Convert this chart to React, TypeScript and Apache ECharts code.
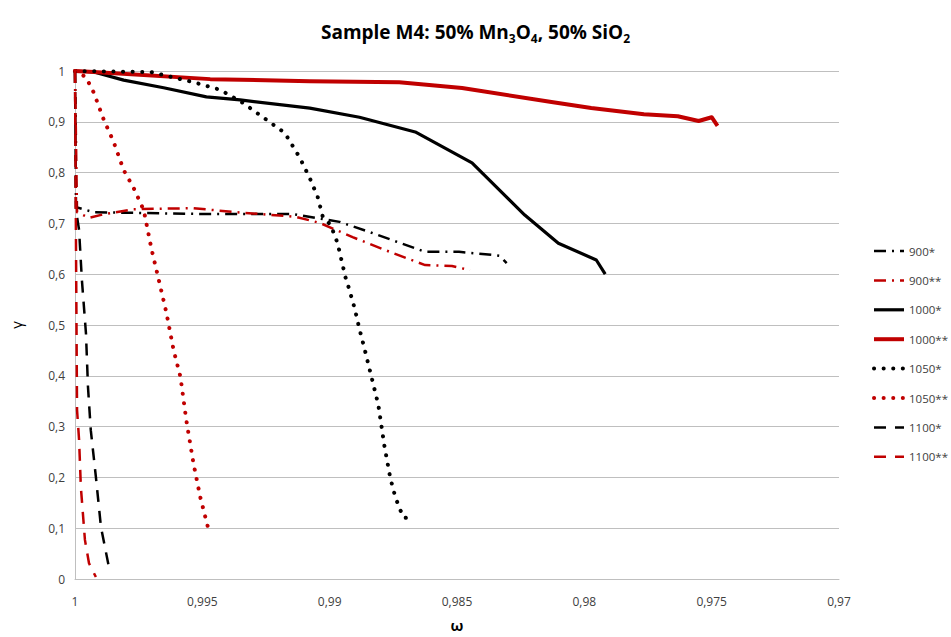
import React, { useEffect, useRef } from "react";
import * as echarts from "echarts";

const seriesNames = ["900*", "900**", "1000*", "1000**", "1050*", "1050**", "1100*", "1100**"];

const omega900a = [1, 0.99996, 0.99926, 0.99496, 0.99145, 0.98961, 0.98844, 0.98754, 0.98625, 0.98492, 0.98363, 0.98332, 0.98305];
const gamma900a = [1, 0.732, 0.722, 0.7185, 0.7185, 0.703, 0.683, 0.667, 0.644, 0.644, 0.638, 0.636, 0.622];

const omega900b = [1, 0.99992, 0.99945, 0.99887, 0.9977, 0.99535, 0.99367, 0.99133, 0.99039, 0.9891, 0.98754, 0.98625, 0.9852, 0.98449];
const gamma900b = [1, 0.722, 0.711, 0.718, 0.728, 0.73, 0.722, 0.713, 0.701, 0.673, 0.642, 0.618, 0.616, 0.608];

const omega1000a = [1, 0.99926, 0.99809, 0.99652, 0.99484, 0.99352, 0.99078, 0.98883, 0.98664, 0.98441, 0.98234, 0.98102, 0.97953, 0.97918];
const gamma1000a = [1, 0.998, 0.982, 0.967, 0.949, 0.943, 0.927, 0.909, 0.88, 0.819, 0.7165, 0.661, 0.628, 0.6];

const omega1000b = [1, 0.99926, 0.99469, 0.99078, 0.98727, 0.9848, 0.98129, 0.97973, 0.97766, 0.97633, 0.97551, 0.975, 0.97477];
const gamma1000b = [1, 0.998, 0.984, 0.98, 0.978, 0.9665, 0.939, 0.927, 0.915, 0.911, 0.9016, 0.909, 0.892];

const omega1050a = [1, 0.99703, 0.99535, 0.9943, 0.9934, 0.99262, 0.99176, 0.99117, 0.99078, 0.99047, 0.99027, 0.98996, 0.98969, 0.98938, 0.98926, 0.98902, 0.98883, 0.98863, 0.98832, 0.98809, 0.98785, 0.98762, 0.98742, 0.98723, 0.98707, 0.98684];
const gamma1050a = [1, 0.998, 0.978, 0.963, 0.937, 0.909, 0.878, 0.829, 0.789, 0.752, 0.713, 0.697, 0.661, 0.594, 0.575, 0.533, 0.492, 0.453, 0.39, 0.343, 0.262, 0.199, 0.161, 0.136, 0.12, 0.122];

const omega1050b = [1, 0.99957, 0.99926, 0.99887, 0.99848, 0.99809, 0.9977, 0.9973, 0.99699, 0.9968, 0.99641, 0.99613, 0.99586, 0.99563, 0.99535, 0.99508, 0.99477];
const gamma1050b = [1, 0.988, 0.957, 0.904, 0.86, 0.805, 0.77, 0.726, 0.648, 0.608, 0.524, 0.451, 0.398, 0.313, 0.228, 0.161, 0.1];

const omega1100a = [1, 0.99996, 0.99984, 0.99973, 0.99957, 0.99949, 0.99938, 0.99918, 0.99898, 0.99867];
const gamma1100a = [1, 0.726, 0.687, 0.589, 0.484, 0.378, 0.293, 0.201, 0.102, 0.024];

const omega1100b = [1, 0.99996, 0.99992, 0.99984, 0.99977, 0.99961, 0.99945, 0.99918];
const gamma1100b = [1, 0.648, 0.333, 0.274, 0.181, 0.077, 0.031, 0.004];

const RED = "#C00000";
const BLACK = "#000000";

const zip = (xs: number[], ys: number[]) => xs.map((x, i) => [x, ys[i]]);
const fmt = (v: number) => String(+v.toFixed(3)).replace(".", ",");

export default function App() {
  const ref = useRef<HTMLDivElement>(null);
  useEffect(() => {
    if (!ref.current) return;
    const chart = echarts.init(ref.current, undefined, { renderer: "svg" });
    const font = "'Open Sans', 'Noto Sans', sans-serif";
    const styles: Record<string, { color: string; width: number; type: any; cap: any }> = {
      "900*": { color: BLACK, width: 2.5, type: [12, 6, 2, 6], cap: "butt" },
      "900**": { color: RED, width: 2.5, type: [12, 6, 2, 6], cap: "butt" },
      "1000*": { color: BLACK, width: 3.2, type: "solid", cap: "butt" },
      "1000**": { color: RED, width: 4, type: "solid", cap: "butt" },
      "1050*": { color: BLACK, width: 4, type: [0.1, 9.5], cap: "round" },
      "1050**": { color: RED, width: 4, type: [0.1, 9.5], cap: "round" },
      "1100*": { color: BLACK, width: 2.5, type: [12, 9], cap: "butt" },
      "1100**": { color: RED, width: 2.5, type: [12, 9], cap: "butt" },
    };
    const mk = (name: string, xs: number[], ys: number[]) => ({
      name,
      type: "line",
      data: zip(xs, ys),
      showSymbol: false,
      symbol: "none",
      lineStyle: { ...styles[name], join: "round" },
      itemStyle: { color: styles[name].color },
      z: 2,
    });
    chart.setOption({
      animation: false,
      backgroundColor: "#ffffff",
      textStyle: { fontFamily: font },
      title: {
        text: "{b|Sample M4: 50% Mn}{s|3}{b|O}{s|4}{b|, 50% SiO}{s|2}",
        left: "center",
        top: 14,
        textStyle: {
          rich: {
            b: { fontSize: 19, fontWeight: "bold", color: "#000", fontFamily: font, lineHeight: 26 },
            s: { fontSize: 12, fontWeight: "bold", color: "#000", fontFamily: font, lineHeight: 13, padding: [13, 0, 0, 0] },
          },
        },
      },
      grid: { left: 71, right: 112, top: 71, bottom: 58, containLabel: false },
      legend: {
        orient: "vertical",
        left: 867,
        top: 240,
        itemWidth: 30,
        itemHeight: 12,
        itemGap: 17.4,
        itemStyle: { opacity: 0 },
        textStyle: { fontSize: 11.5, color: "#404040", fontFamily: font },
        data: seriesNames.map((n) => ({
          name: n,
          lineStyle: { color: styles[n].color, width: styles[n].width, type: styles[n].type, cap: styles[n].cap },
        })),
      },
      xAxis: {
        type: "value",
        inverse: true,
        min: 0.97,
        max: 1,
        interval: 0.005,
        name: "ω",
        nameLocation: "middle",
        nameGap: 38,
        nameTextStyle: { fontSize: 15, fontWeight: "bold", color: "#000", fontFamily: font },
        axisLine: { show: true, lineStyle: { color: "#bfbfbf", width: 1 } },
        axisTick: { show: false },
        axisLabel: { formatter: (v: number) => fmt(v), fontSize: 12, color: "#404040", margin: 16 },
        splitLine: { show: false },
      },
      yAxis: {
        type: "value",
        min: 0,
        max: 1,
        interval: 0.1,
        name: "γ",
        nameLocation: "middle",
        nameRotate: 90,
        nameGap: 52,
        nameTextStyle: { fontSize: 15, color: "#000", fontFamily: font },
        axisLine: { show: true, lineStyle: { color: "#bfbfbf", width: 1 } },
        axisTick: { show: false },
        axisLabel: { formatter: (v: number) => fmt(v), fontSize: 12, color: "#404040", margin: 10 },
        splitLine: { show: true, lineStyle: { color: "#bfbfbf", width: 1 } },
      },
      series: [
        mk("900*", omega900a, gamma900a),
        mk("900**", omega900b, gamma900b),
        mk("1000*", omega1000a, gamma1000a),
        mk("1000**", omega1000b, gamma1000b),
        mk("1050*", omega1050a, gamma1050a),
        mk("1050**", omega1050b, gamma1050b),
        mk("1100*", omega1100a, gamma1100a),
        mk("1100**", omega1100b, gamma1100b),
      ],
    });
    return () => chart.dispose();
  }, []);
  return <div ref={ref} style={{ width: 951, height: 637, position: "absolute", left: 0, top: 0 }} />;
}
